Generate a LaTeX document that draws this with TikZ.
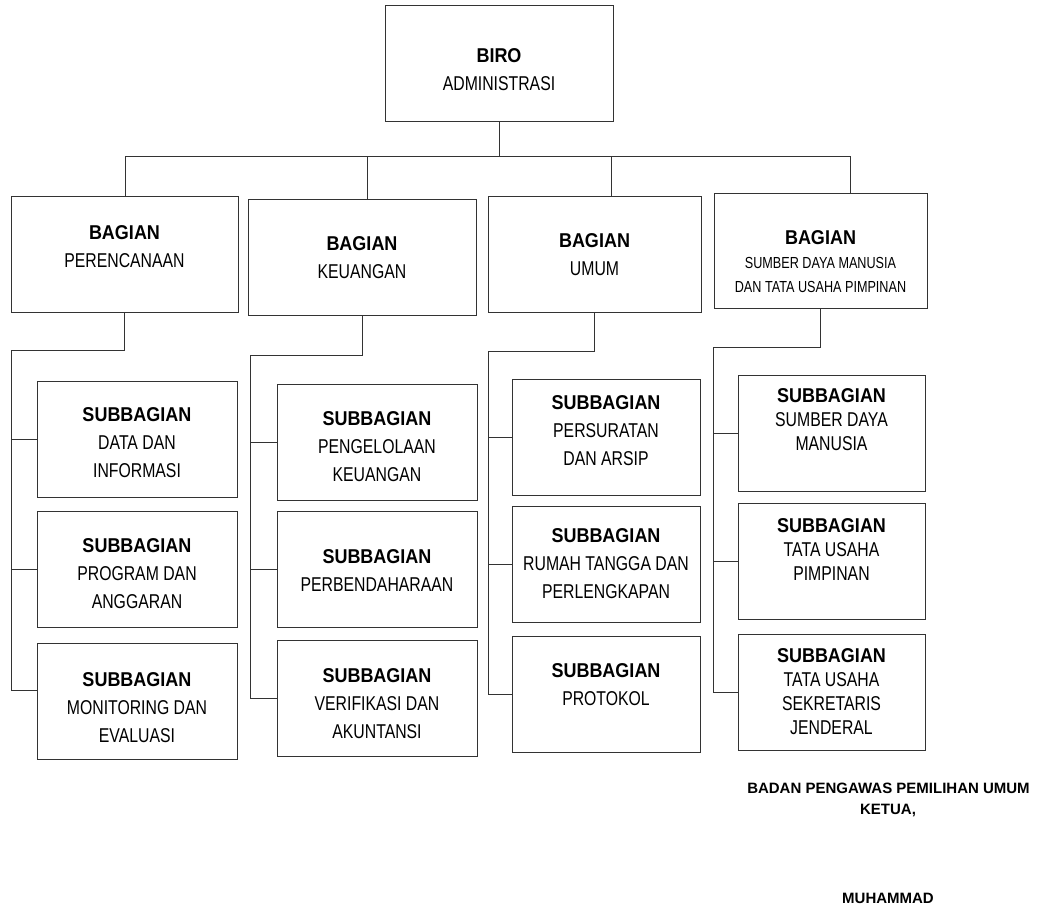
\documentclass[tikz,border=0pt]{standalone}
\usepackage{fontspec}
\setmainfont[FakeStretch=0.79]{Liberation Sans}
\newfontfamily\headfont[FakeStretch=0.9]{Liberation Sans}
\newfontfamily\signfont{Liberation Sans}
\usetikzlibrary{positioning}
\newcommand{\headtxt}[1]{{\headfont\bfseries #1}}
\tikzset{
  unit/.style={draw=black!80, line width=0.9pt, minimum height=116pt, inner sep=0pt},
  lbl/.style={anchor=north, align=center, inner sep=0pt, font=\fontsize{20}{#1}\selectfont},
  lbl/.default=28,
  link/.style={draw=black!80, line width=0.9pt},
  sign/.style={font=\signfont\bfseries\fontsize{15}{21}\selectfont, anchor=base, inner sep=0pt}
}
\begin{document}
\begin{tikzpicture}[x=1pt,y=-1pt]
    \useasboundingbox (0,0) rectangle (1037,907);
    % top and bagian boxes
    \node[unit, minimum width=228pt] (biro) at (499,63) {};
    \node[unit, minimum width=227pt] (perencanaan) at (124.5,254) {};
    \node[unit, minimum width=228pt] (keuangan) at (362,257) {};
    \node[unit, minimum width=213pt] (umum) at (594.5,254) {};
    \node[unit, minimum width=213pt, minimum height=115pt] (sdm) at (820.5,250.5) {};
    % subbagian boxes
    \foreach \n/\x/\y in {data/137/439,program/137/569,monev/137/701}
        \node[unit, minimum width=200pt] (\n) at (\x,\y) {};
    \foreach \n/\x/\y in {kelola/377/442,bendahara/377/569,verif/377/698}
        \node[unit, minimum width=200pt] (\n) at (\x,\y) {};
    \foreach \n/\x/\y in {surat/606/437,rt/606/564.5,protokol/606/694}
        \node[unit, minimum width=188pt] (\n) at (\x,\y) {};
    \foreach \n/\x/\y in {sdmsub/831.5/433.5,tup/831.5/561,tusj/831.5/692}
        \node[unit, minimum width=187pt] (\n) at (\x,\y) {};

    % texts
    \node[lbl, below=43.5pt of biro.north] {\headtxt{BIRO}\\ADMINISTRASI};
    \node[lbl, below=29.5pt of perencanaan.north] {\headtxt{BAGIAN}\\PERENCANAAN};
    \node[lbl, below=37.5pt of keuangan.north] {\headtxt{BAGIAN}\\KEUANGAN};
    \node[lbl, below=37.5pt of umum.north] {\headtxt{BAGIAN}\\UMUM};
    \node[lbl=24, below=37.5pt of sdm.north] {\headtxt{BAGIAN}\\{\fontsize{16}{23}\selectfont SUMBER DAYA MANUSIA}\\{\fontsize{16}{23}\selectfont DAN TATA USAHA PIMPINAN}};
    \node[lbl, below=26.5pt of data.north] {\headtxt{SUBBAGIAN}\\DATA DAN\\INFORMASI};
    \node[lbl, below=27.5pt of program.north] {\headtxt{SUBBAGIAN}\\PROGRAM DAN\\ANGGARAN};
    \node[lbl, below=29.5pt of monev.north] {\headtxt{SUBBAGIAN}\\MONITORING DAN\\EVALUASI};
    \node[lbl, below=27.5pt of kelola.north] {\headtxt{SUBBAGIAN}\\PENGELOLAAN\\KEUANGAN};
    \node[lbl, below=38.5pt of bendahara.north] {\headtxt{SUBBAGIAN}\\PERBENDAHARAAN};
    \node[lbl, below=28.5pt of verif.north] {\headtxt{SUBBAGIAN}\\VERIFIKASI DAN\\AKUNTANSI};
    \node[lbl, below=16.5pt of surat.north] {\headtxt{SUBBAGIAN}\\PERSURATAN\\DAN ARSIP};
    \node[lbl, below=22pt of rt.north] {\headtxt{SUBBAGIAN}\\RUMAH TANGGA DAN\\PERLENGKAPAN};
    \node[lbl, below=27.5pt of protokol.north] {\headtxt{SUBBAGIAN}\\PROTOKOL};
    \node[lbl=24, below=13pt of sdmsub.north] {\headtxt{SUBBAGIAN}\\SUMBER DAYA\\MANUSIA};
    \node[lbl=24, below=15.5pt of tup.north] {\headtxt{SUBBAGIAN}\\TATA USAHA\\PIMPINAN};
    \node[lbl=24, below=14.5pt of tusj.north] {\headtxt{SUBBAGIAN}\\TATA USAHA\\SEKRETARIS\\JENDERAL};

    % top bus
    \coordinate (busL) at (125,156);
    \coordinate (busR) at (850,156);
    \coordinate (d2) at (367,156);
    \coordinate (d3) at (611,156);
    \draw[link] (biro.south) -- (biro.south |- busL);
    \draw[link] (busL) -- (busR);
    \draw[link] (busL) -- (busL |- perencanaan.north);
    \draw[link] (d2) -- (d2 |- keuangan.north);
    \draw[link] (d3) -- (d3 |- umum.north);
    \draw[link] (busR) -- (busR |- sdm.north);

    % trunks to subbagian
    \coordinate (k1) at (11,350);
    \coordinate (k2) at (250,355);
    \coordinate (k3) at (488,351);
    \coordinate (k4) at (713,347);
    \draw[link] (perencanaan.south) |- (k1) -- (11,690) -- ([yshift=11pt]monev.west);
    \draw[link] (keuangan.south) |- (k2) |- (verif.west);
    \draw[link] (umum.south) |- (k3) |- (protokol.west);
    \draw[link] (sdm.south) |- (k4) |- (tusj.west);
    \foreach \k/\s in {k1/data,k1/program,k2/kelola,k2/bendahara,k3/surat,k3/rt,k4/sdmsub,k4/tup}
        \draw[link] (\k |- \s.west) -- (\s.west);

    % signature
    \node[sign] (badan) at (888.5,793) {BADAN PENGAWAS PEMILIHAN UMUM};
    \node[sign] (ketua) at (888,814) {KETUA,};
    \node[sign] (nama) at (888,903) {MUHAMMAD};
\end{tikzpicture}
\end{document}
